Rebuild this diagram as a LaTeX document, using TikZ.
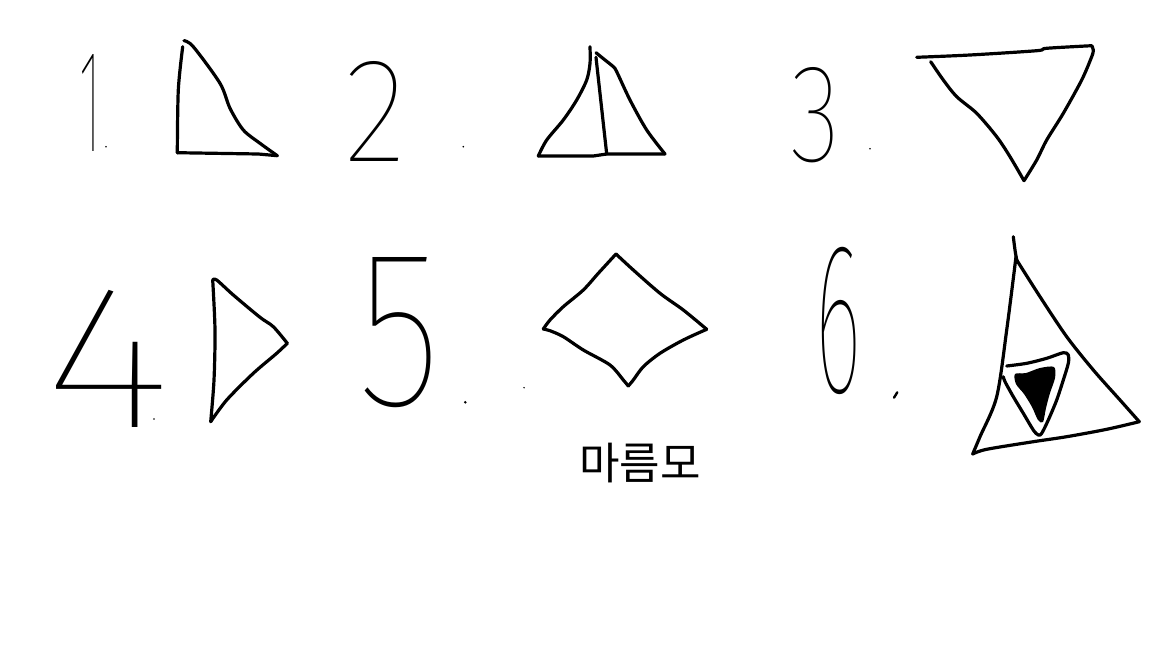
\documentclass[tikz,border=0pt]{standalone}
\usepackage{fontspec}
\newfontfamily\thinfont{Fira Sans}[UprightFont={* Thin}]
\newfontfamily\krfont{Noto Sans CJK KR}
\begin{document}
\begin{tikzpicture}[x=1pt,y=-1pt,
  ink/.style={line width=3.2pt,line cap=round,line join=round},
  digit/.style={inner sep=0pt,anchor=center},
  speck/.style={fill=black}]
\fill[white] (0,0) rectangle (1152,648);
\useasboundingbox (0,0) rectangle (1152,648);

% digits
\node[digit] (n1) at (90,102.5) {\resizebox{22pt}{97pt}{\thinfont 1}};
\node[digit] (n2) at (375.5,111.7) {\resizebox{62pt}{100pt}{\thinfont 2}};
\node[digit] (n3) at (816,115) {\resizebox{50pt}{94pt}{\thinfont 3}};
\node[digit] (n4) at (108,358.5) {\resizebox{128pt}{137pt}{\thinfont 4}};
\node[digit] (n5) at (400,333) {\resizebox{84pt}{148pt}{\thinfont 5}};
\node[digit] (n6) at (838,320.5) {\resizebox{46pt}{145pt}{\thinfont 6}};
\node[inner sep=0pt] (word) at (640,463) {\fontsize{44pt}{44pt}\selectfont\krfont 마름모};

% specks
\fill[speck] (106,146.7) circle (0.9);
\fill[speck] (463.3,146.7) circle (0.9);
\fill[speck] (870,148.7) circle (0.9);
\fill[speck] (154,419) circle (0.9);
\fill[speck] (465.3,402.3) circle (1.4);
\fill[speck] (524,387.7) circle (0.8);
\draw[ink,line width=2.4pt] (897.3,392.3) -- (894,397.7);

% shape 1: right triangle
\draw[ink] plot[smooth] coordinates {(182.7,46.7) (178.3,90) (177.3,152.7)};
\draw[ink] (177.3,152.7) -- (258.3,154) -- (277.3,155.7);
\draw[ink] plot[smooth] coordinates {(184,40.7) (193.3,46.7) (220,83.3) (230,108.3) (243.3,130) (260,143.3) (277.3,155.7)};

% shape 2: sail
\draw[ink] plot[smooth] coordinates {(590,46.7) (590,63.3) (586.7,80) (576.7,100) (563.3,120) (546.7,140) (538.3,156)};
\draw[ink] (538.3,156) -- (593.3,156) -- (606.7,154) -- (665,154);
\draw[ink] (596,57.3) -- (606.7,154);
\draw[ink] plot[smooth] coordinates {(596,52.7) (605,60) (613.3,66.7) (616.7,71.7) (630,100) (646.7,130) (665,154)};

% shape 3: inverted triangle
\draw[ink] plot[smooth] coordinates {(916.7,57.3) (970,55) (1036.7,50.7) (1046.7,48.3) (1091.7,45.7)};
\draw[ink] plot[smooth] coordinates {(1091.7,45.7) (1093.3,50) (1091.7,56.7) (1081.7,80) (1063.3,113.3) (1046.7,140) (1036.7,160) (1024,180.7)};
\draw[ink] plot[smooth] coordinates {(930.7,61.7) (943.3,80) (956.7,96.7) (976.7,113.3) (996.7,136.7) (1010,156.7) (1024,180.7)};

% shape 4: right-pointing triangle
\draw[ink] plot[smooth] coordinates {(212.7,280) (215,330) (214,380) (210.7,421.7)};
\draw[ink] plot[smooth] coordinates {(212.7,280) (216.7,280) (233.3,295) (260,317.3) (273.3,326.7) (287.3,343.3)};
\draw[ink] plot[smooth] coordinates {(287.3,343.3) (276.7,353.3) (253.3,373.3) (226.7,400) (210.7,421.7)};

% shape 5: diamond
\draw[ink] plot[smooth] coordinates {(543.3,329) (550,320) (563.3,306.7) (583.3,290) (598.3,273.3) (616,254)};
\draw[ink] plot[smooth] coordinates {(616,254) (633.3,270) (660,293.3) (683.3,310) (706.7,329.3)};
\draw[ink] plot[smooth] coordinates {(706.7,329.3) (683.3,340) (660,353.3) (643.3,366.7) (633.3,380) (628.3,386)};
\draw[ink] plot[smooth] coordinates {(628.3,386) (623.3,380) (610,365) (583.3,350) (563.3,336.7) (550,330.7) (543.3,329)};

% shape 6: big triangle
\draw[ink] plot[smooth] coordinates {(1013.3,236.7) (1015,250) (1016.7,260)};
\draw[ink] plot[smooth] coordinates {(1016,256.7) (1006.7,330) (996.7,396.7) (980,436.7) (972.7,454)};
\draw[ink] plot[smooth] coordinates {(972.7,454) (986.7,449.3) (1033.3,441.7) (1066.7,436.7) (1106.7,429.3) (1139.3,421.7)};
\draw[ink] plot[smooth] coordinates {(1016.7,260) (1040,296.7) (1066.7,336.7) (1093.3,370) (1120,400) (1139.3,421.7)};
% inner triangle
\draw[ink] plot[smooth] coordinates {(1006.7,366) (1026.7,363.3) (1046.7,358.3) (1063.3,352.7) (1068.3,355) (1068.3,363.3) (1063.3,380) (1056.7,400) (1048.3,420) (1041.7,433.3) (1038.3,435) (1033.3,430) (1023.3,413.3) (1013.3,396.7) (1005,381.7) (1003.3,376.7)};
% scribble fill
\fill[black] plot[smooth cycle] coordinates {(1015,374) (1026,373) (1040,368) (1054,367) (1055,378) (1050,393) (1046,408) (1043,422) (1038,420) (1032,407) (1024,394) (1016,384)};
\end{tikzpicture}
\end{document}
